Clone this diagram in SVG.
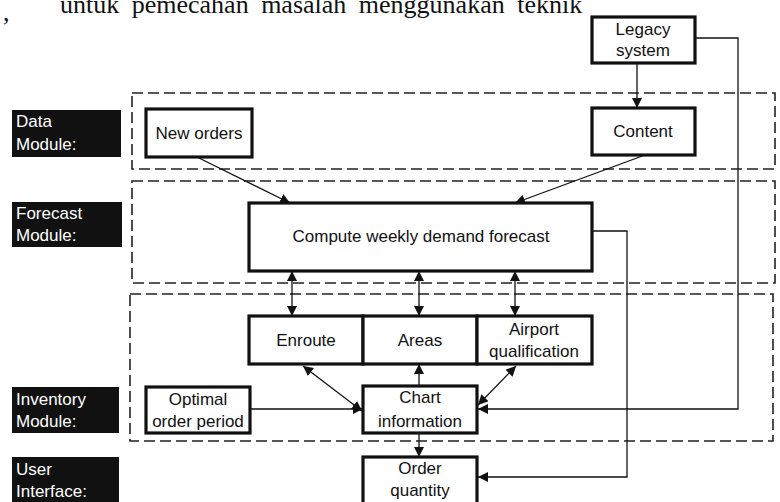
<svg xmlns="http://www.w3.org/2000/svg" width="780" height="502" viewBox="0 0 780 502">
<defs>
<style>
.t{font-family:"Liberation Sans",Arial,sans-serif;font-size:17px;fill:#111;text-anchor:middle}
.lt{font-family:"Liberation Sans",Arial,sans-serif;font-size:17px;fill:#fff}
.box{fill:#fff;stroke:#111;stroke-width:3.2}
.lbl{fill:#111}
.mod{fill:none;stroke:#222;stroke-width:1.6;stroke-dasharray:11 5}
.c{fill:none;stroke:#111;stroke-width:1.3}
.serif{font-family:"Liberation Serif","Times New Roman",serif;font-size:26px;fill:#111}
</style>
<marker id="ah" viewBox="0 0 10 10" refX="10" refY="5" markerWidth="10" markerHeight="10" markerUnits="userSpaceOnUse" orient="auto-start-reverse">
<path d="M0,0 L10,5 L0,10 z" fill="#111"/>
</marker>
</defs>
<rect width="780" height="502" fill="#fff"/>
<text class="serif" x="3" y="21" font-size="24">,</text>
<text class="serif" x="60" y="13" word-spacing="6">untuk pemecahan masalah menggunakan teknik</text>

<g id="modules">
<rect class="mod" x="132" y="93" width="643" height="76"/>
<rect class="mod" x="132" y="181" width="643" height="102"/>
<rect class="mod" x="130" y="294" width="643" height="147"/>
</g>

<g id="label-data"><rect class="lbl" x="12" y="110" width="109" height="47"/><text class="lt" x="16" y="127">Data</text><text class="lt" x="16" y="150">Module:</text></g>
<g id="label-forecast"><rect class="lbl" x="12" y="202" width="110" height="45"/><text class="lt" x="16" y="219">Forecast</text><text class="lt" x="16" y="241">Module:</text></g>
<g id="label-inventory"><rect class="lbl" x="12" y="387" width="107" height="46"/><text class="lt" x="16" y="405">Inventory</text><text class="lt" x="16" y="427">Module:</text></g>
<g id="label-user"><rect class="lbl" x="12" y="457" width="107" height="45"/><text class="lt" x="16" y="475">User</text><text class="lt" x="16" y="497">Interface:</text></g>

<g id="connectors">
<path class="c" d="M637,63 L637,108" marker-end="url(#ah)"/>
<path class="c" d="M197,157 L290,203" marker-end="url(#ah)"/>
<path class="c" d="M645,155 L515,203" marker-end="url(#ah)"/>
<path class="c" d="M292,271 L292,316" marker-start="url(#ah)" marker-end="url(#ah)"/>
<path class="c" d="M419,271 L419,316" marker-start="url(#ah)" marker-end="url(#ah)"/>
<path class="c" d="M515,271 L515,316" marker-start="url(#ah)" marker-end="url(#ah)"/>
<path class="c" d="M303,366 L362,411" marker-start="url(#ah)" marker-end="url(#ah)"/>
<path class="c" d="M250,409 L363,409" marker-end="url(#ah)"/>
<path class="c" d="M419,386 L419,364" marker-end="url(#ah)"/>
<path class="c" d="M516,366 L478,405" marker-start="url(#ah)" marker-end="url(#ah)"/>
<path class="c" d="M695,38 L738,38 L738,409 L478,409" marker-end="url(#ah)"/>
<path class="c" d="M419,433 L419,457" marker-end="url(#ah)"/>
<path class="c" d="M592,231 L627,231 L627,477 L478,477" marker-end="url(#ah)"/>
</g>

<g id="legacy"><rect class="box" x="592" y="17" width="103" height="46"/><text class="t" x="643" y="35">Legacy</text><text class="t" x="643" y="56">system</text></g>
<g id="new-orders"><rect class="box" x="146" y="109" width="106" height="48"/><text class="t" x="199" y="139">New orders</text></g>
<g id="content"><rect class="box" x="592" y="108" width="103" height="47"/><text class="t" x="643" y="137">Content</text></g>
<g id="compute"><rect class="box" x="249" y="203" width="343" height="68"/><text class="t" x="421" y="242">Compute weekly demand forecast</text></g>
<g id="enroute"><rect class="box" x="249" y="316" width="114" height="48"/><text class="t" x="306" y="346">Enroute</text></g>
<g id="areas"><rect class="box" x="363" y="316" width="114" height="48"/><text class="t" x="420" y="346">Areas</text></g>
<g id="airport"><rect class="box" x="477" y="316" width="115" height="48"/><text class="t" x="534" y="335">Airport</text><text class="t" x="534" y="357">qualification</text></g>
<g id="optimal"><rect class="box" x="146" y="387" width="104" height="46"/><text class="t" x="198" y="405">Optimal</text><text class="t" x="198" y="427">order period</text></g>
<g id="chart"><rect class="box" x="363" y="386" width="114" height="47"/><text class="t" x="420" y="403">Chart</text><text class="t" x="420" y="427">information</text></g>
<g id="order-quantity"><rect class="box" x="363" y="457" width="114" height="50"/><text class="t" x="420" y="474">Order</text><text class="t" x="420" y="496">quantity</text></g>
</svg>
